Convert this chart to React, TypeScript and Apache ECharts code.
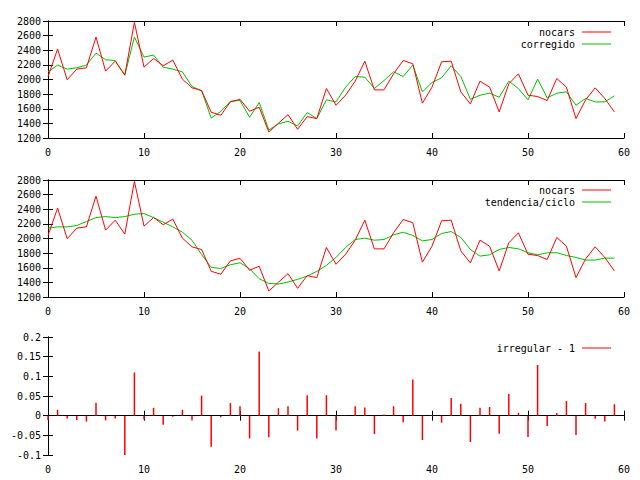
import React, { useEffect, useRef } from "react";
import * as echarts from "echarts";

// Monthly series (index 0..59)
const nocars = [
  2041, 2416, 1996, 2142, 2160, 2580, 2114, 2251, 2060, 2782,
  2169, 2288, 2188, 2265, 2005, 1886, 1849, 1552, 1511, 1694,
  1730, 1566, 1621, 1282, 1401, 1520, 1319, 1493, 1465, 1877,
  1648, 1785, 1977, 2251, 1858, 1858, 2078, 2260, 2215, 1676,
  1895, 2242, 2251, 1831, 1666, 1977, 1895, 1557, 1941, 2078,
  1785, 1767, 1712, 2014, 1895, 1465, 1721, 1886, 1740, 1557,
];

const corregido = [
  2105, 2197, 2142, 2160, 2197, 2361, 2270, 2260, 2060, 2580,
  2306, 2334, 2169, 2142, 2105, 1904, 1845, 1474, 1562, 1703,
  1712, 1484, 1685, 1310, 1392, 1429, 1365, 1548, 1465, 1721,
  1694, 1895, 2041, 2032, 1877, 1986, 2105, 2041, 2197, 1831,
  1959, 2023, 2188, 2041, 1730, 1785, 1813, 1758, 1977, 1877,
  1721, 2005, 1749, 1813, 1831, 1648, 1740, 1694, 1694, 1776,
];

const tendencia = [
  2141, 2159, 2159, 2177, 2232, 2286, 2300, 2286, 2300, 2332,
  2341, 2286, 2223, 2159, 2086, 1977, 1780, 1605, 1590, 1641,
  1668, 1586, 1450, 1386, 1377, 1405, 1441, 1486, 1550, 1632,
  1741, 1877, 1986, 2005, 1977, 1986, 2050, 2086, 2041, 1968,
  1986, 2068, 2095, 2014, 1850, 1759, 1777, 1850, 1877, 1859,
  1805, 1777, 1805, 1805, 1768, 1741, 1705, 1705, 1732, 1732,
];

const irregular = [
  -0.011, 0.015, -0.007, -0.011, -0.015, 0.033, -0.012, -0.007, -0.1, 0.110,
  -0.010, 0.020, -0.023, -0.003, 0.015, -0.012, 0.051, -0.079, -0.004, 0.032,
  0.024, -0.058, 0.163, -0.055, 0.019, 0.024, -0.038, 0.052, -0.058, 0.052,
  -0.038, 0.001, 0.024, 0.021, -0.047, 0.003, 0.024, -0.017, 0.092, -0.062,
  0.002, -0.018, 0.045, 0.030, -0.067, 0.020, 0.022, -0.046, 0.055, 0.007,
  -0.054, 0.129, -0.026, 0.007, 0.037, -0.049, 0.032, -0.008, -0.015, 0.029,
];

const legendTop = ["nocars", "corregido"];
const legendMid = ["nocars", "tendencia/ciclo"];
const legendBot = ["irregular - 1"];

const RED = "#ff0000";
const GREEN = "#00c000";
const FONT = "DejaVu Sans Mono";

const pairs = (arr: number[]) => arr.map((v, i) => [i, v]);

export default function App() {
  const ref = useRef<HTMLDivElement>(null);

  useEffect(() => {
    document.body.style.margin = "0";
    if (!ref.current) return;
    const chart = echarts.init(ref.current, null, { renderer: "svg" });

    const grids = [
      { left: 48, top: 21, width: 576, height: 117 },
      { left: 48, top: 180, width: 576, height: 117 },
      { left: 48, top: 337, width: 576, height: 118 },
    ];

    const axisLine = { show: true, lineStyle: { color: "#000", width: 1 } };
    const tick = { show: true, inside: true, length: 5, lineStyle: { color: "#000" } };
    const label = { color: "#000", fontFamily: FONT, fontSize: 10 };
    const plain = (v: number) => String(+v.toFixed(2));

    const xAxes: any[] = [];
    const yAxes: any[] = [];
    grids.forEach((_, g) => {
      xAxes.push({
        type: "value", gridIndex: g, min: 0, max: 60, interval: 10, position: "bottom",
        axisLine, axisTick: tick, splitLine: { show: false },
        axisLabel: { ...label, margin: 9, formatter: plain },
      });
      xAxes.push({
        type: "value", gridIndex: g, min: 0, max: 60, interval: 10, position: "top",
        axisLine, axisTick: tick, splitLine: { show: false }, axisLabel: { show: false },
      });
    });
    [0, 1].forEach((g) => {
      yAxes.push({
        type: "value", gridIndex: g, min: 1200, max: 2800, interval: 200, position: "left",
        axisLine, axisTick: tick, splitLine: { show: false },
        axisLabel: { ...label, margin: 7, formatter: plain },
      });
      yAxes.push({
        type: "value", gridIndex: g, min: 1200, max: 2800, interval: 200, position: "right",
        axisLine, axisTick: tick, splitLine: { show: false }, axisLabel: { show: false },
      });
    });
    yAxes.push({
      type: "value", gridIndex: 2, min: -0.1, max: 0.2, interval: 0.05, position: "left",
      axisLine, axisTick: tick, splitLine: { show: false },
      axisLabel: { ...label, margin: 7, formatter: plain },
    });
    yAxes.push({
      type: "value", gridIndex: 2, min: -0.1, max: 0.2, interval: 0.05, position: "right",
      axisLine, axisTick: tick, splitLine: { show: false }, axisLabel: { show: false },
    });

    const line = (name: string, data: number[], color: string, g: number) => ({
      type: "line", name, xAxisIndex: g * 2, yAxisIndex: g * 2,
      data: pairs(data), showSymbol: false, symbol: "none",
      lineStyle: { color, width: 1 }, z: color === RED ? 3 : 2,
    });

    // legend entries: right-aligned text followed by a short line sample
    const legend = (labels: string[], colors: string[], y0: number) =>
      labels.flatMap((t, k) => [
        {
          type: "text", x: 575, y: y0 + k * 12,
          style: { text: t, fill: "#000", font: `10px "${FONT}"`, textAlign: "right", textVerticalAlign: "middle" },
        },
        {
          type: "line", shape: { x1: 582, y1: y0 + k * 12, x2: 611, y2: y0 + k * 12 },
          style: { stroke: colors[k], lineWidth: 1 },
        },
      ]);

    chart.setOption({
      animation: false,
      backgroundColor: "#fff",
      grid: grids,
      xAxis: xAxes,
      yAxis: yAxes,
      series: [
        line("nocars", nocars, RED, 0),
        line("corregido", corregido, GREEN, 0),
        line("nocars", nocars, RED, 1),
        line("tendencia/ciclo", tendencia, GREEN, 1),
        {
          type: "bar", name: "irregular - 1", xAxisIndex: 4, yAxisIndex: 4,
          data: pairs(irregular), barWidth: 1.5, itemStyle: { color: RED },
        },
      ],
      graphic: [
        ...legend(legendTop, [RED, GREEN], 32),
        ...legend(legendMid, [RED, GREEN], 190),
        ...legend(legendBot, [RED], 348),
      ],
    });

    return () => chart.dispose();
  }, []);

  return <div ref={ref} style={{ width: 640, height: 480 }} />;
}
